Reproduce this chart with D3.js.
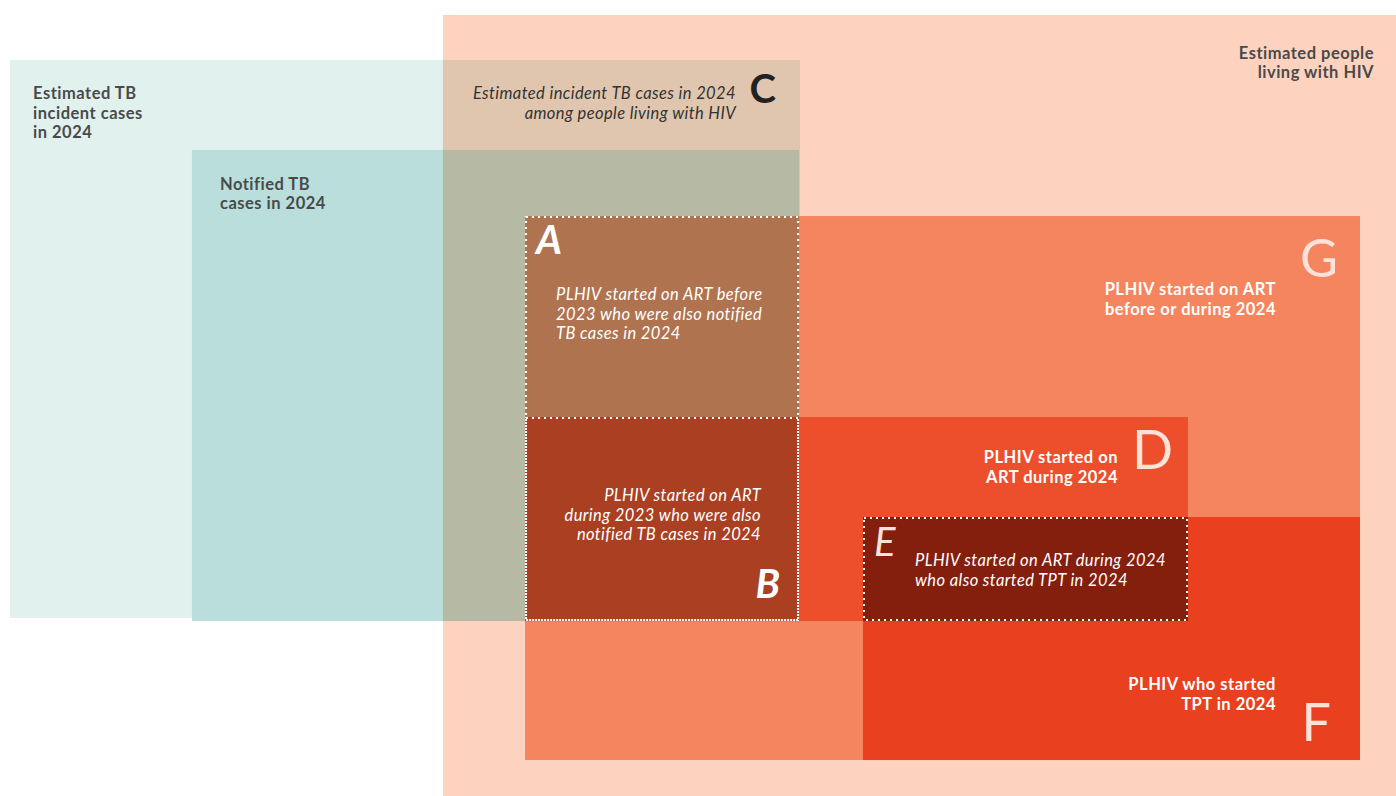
<!DOCTYPE html>
<html>
<head>
<meta charset="utf-8">
<script src="https://cdn.jsdelivr.net/npm/d3@7"></script>
<style>
  html, body { margin: 0; padding: 0; background: #ffffff; }
  svg { display: block; }
</style>
</head>
<body>
<div id="chart"></div>
<script>
// sets of the diagram, extents in percent of the picture
const SET_KEYS = ['tbEst', 'notified', 'plhiv', 'art', 'artNew', 'tpt'];
const SET_X0 = [0.72, 13.75, 31.73, 37.61, 37.61, 61.82];
const SET_X1 = [57.31, 57.24, 100, 97.42, 85.10, 97.42];
const SET_Y0 = [7.54, 18.84, 1.88, 27.14, 52.39, 64.95];
const SET_Y1 = [77.64, 78.02, 100, 95.48, 78.02, 95.48];

// overlaps drawn on top of the sets, computed as intersections
const OVERLAP_KEYS = ['tbEst_plhiv', 'notified_plhiv', 'A', 'B', 'E'];
const OVERLAP_SETS = [['tbEst', 'plhiv'], ['notified', 'plhiv'], ['notified', 'art'],
                      ['notified', 'artNew'], ['artNew', 'tpt']];
const DOTTED = ['A', 'B', 'E'];

const FILLS = {
  tbEst: '#e0f1ee', notified: '#b9dedb', plhiv: '#fdd3bf', art: '#f5855f',
  artNew: '#ed4e2b', tpt: '#e9411f',
  tbEst_plhiv: '#e0c6ae', notified_plhiv: '#b6b9a3', A: '#b07350', B: '#aa3f22', E: '#841e0d'
};

// text labels
const LABEL_TEXT = [
  ['Estimated TB', 'incident cases', 'in 2024'],
  ['Notified TB', 'cases in 2024'],
  ['Estimated incident TB cases in 2024', 'among people living with HIV'],
  ['Estimated people', 'living with HIV'],
  ['PLHIV started on ART', 'before or during 2024'],
  ['PLHIV started on ART before', '2023 who were also notified', 'TB cases in 2024'],
  ['PLHIV started on ART', 'during 2023 who were also', 'notified TB cases in 2024'],
  ['PLHIV started on', 'ART during 2024'],
  ['PLHIV started on ART during 2024', 'who also started TPT in 2024'],
  ['PLHIV who started', 'TPT in 2024']
];
const LETTERS = ['A', 'B', 'C', 'D', 'E', 'F', 'G'];

const W = 1396, H = 796;
var x = d3.scaleLinear().domain([0, 100]).range([0, W]);
var y = d3.scaleLinear().domain([0, 100]).range([0, H]);

var sets = SET_KEYS.map(function(k, i) {
  return {key: k, x0: SET_X0[i], x1: SET_X1[i], y0: SET_Y0[i], y1: SET_Y1[i]};
});
var byKey = {};
sets.forEach(function(s) { byKey[s.key] = s; });

var overlaps = OVERLAP_KEYS.map(function(k, i) {
  var a = byKey[OVERLAP_SETS[i][0]], b = byKey[OVERLAP_SETS[i][1]];
  return {key: k, x0: Math.max(a.x0, b.x0), x1: Math.min(a.x1, b.x1),
          y0: Math.max(a.y0, b.y0), y1: Math.min(a.y1, b.y1)};
});
var ov = {};
overlaps.forEach(function(o) { ov[o.key] = o; });

var svg = d3.select('#chart').append('svg')
  .attr('width', W).attr('height', H);

// draw order: tb sets, plhiv, then overlaps of tb with plhiv, then the art/tpt sets
var order = [byKey.tbEst, byKey.notified, byKey.plhiv, ov.tbEst_plhiv, ov.notified_plhiv,
             byKey.art, ov.A, byKey.artNew, byKey.tpt, ov.B, ov.E];

svg.append('g').selectAll('rect')
  .data(order)
  .enter().append('rect')
    .attr('x', function(d) { return x(d.x0); })
    .attr('y', function(d) { return y(d.y0); })
    .attr('width', function(d) { return x(d.x1) - x(d.x0); })
    .attr('height', function(d) { return y(d.y1) - y(d.y0); })
    .attr('fill', function(d) { return FILLS[d.key]; });

// dotted white borders
svg.append('g').selectAll('rect')
  .data(DOTTED.map(function(k) { return ov[k]; }))
  .enter().append('rect')
    .attr('x', function(d) { return x(d.x0) + 1; })
    .attr('y', function(d) { return y(d.y0) + 1; })
    .attr('width', function(d) { return x(d.x1) - x(d.x0) - 2; })
    .attr('height', function(d) { return y(d.y1) - y(d.y0) - 2; })
    .attr('fill', 'none')
    .attr('stroke', '#ffffff')
    .attr('stroke-width', 2)
    .attr('stroke-dasharray', '2 4');

// label layout: anchor corner of a region + offset
function R(d) { return {l: x(d.x0), r: x(d.x1), t: y(d.y0), b: y(d.y1)}; }
var dark = '#4a4a4a', light = '#ffffff', letterCol = '#fde2da';
var labels = [
  {i: 0, px: R(byKey.tbEst).l + 23, py: R(byKey.tbEst).t + 39, anchor: 'start', col: dark, italic: false},
  {i: 1, px: R(byKey.notified).l + 28, py: R(byKey.notified).t + 40, anchor: 'start', col: dark, italic: false},
  {i: 2, px: R(ov.tbEst_plhiv).r - 64, py: R(ov.tbEst_plhiv).t + 39, anchor: 'end', col: '#333333', italic: true},
  {i: 3, px: R(byKey.plhiv).r - 22, py: R(byKey.plhiv).t + 44, anchor: 'end', col: dark, italic: false},
  {i: 4, px: R(byKey.art).r - 84, py: R(byKey.art).t + 79, anchor: 'end', col: light, italic: false},
  {i: 5, px: R(ov.A).l + 31, py: R(ov.A).t + 84, anchor: 'start', col: light, italic: true},
  {i: 6, px: R(ov.B).r - 38, py: R(ov.B).t + 84, anchor: 'end', col: light, italic: true},
  {i: 7, px: R(byKey.artNew).r - 70, py: R(byKey.artNew).t + 46, anchor: 'end', col: light, italic: false},
  {i: 8, px: R(ov.E).l + 52, py: R(ov.E).t + 49, anchor: 'start', col: light, italic: true},
  {i: 9, px: R(byKey.tpt).r - 84, py: R(byKey.tpt).t + 173, anchor: 'end', col: light, italic: false}
];

svg.append('g').selectAll('text')
  .data(labels)
  .enter().append('text')
    .attr('x', function(d) { return d.px; })
    .attr('y', function(d) { return d.py; })
    .attr('text-anchor', function(d) { return d.anchor; })
    .attr('fill', function(d) { return d.col; })
    .attr('font-family', 'Lato, "Open Sans", sans-serif')
    .attr('font-size', 16.5)
    .attr('letter-spacing', function(d) { return d.italic ? 0.4 : 0.5; })
    .attr('font-weight', function(d) { return d.italic ? 400 : 700; })
    .attr('font-style', function(d) { return d.italic ? 'italic' : 'normal'; })
    .each(function(d) {
      var t = d3.select(this);
      LABEL_TEXT[d.i].forEach(function(line, j) {
        t.append('tspan').attr('x', d.px).attr('dy', j === 0 ? 0 : 19.5).text(line);
      });
    });

// big region letters
var letterPos = [
  {ch: 'A', px: R(ov.A).l + 11, py: R(ov.A).t + 38, anchor: 'start', col: '#ffffff', italic: true, size: 40, weight: 700},
  {ch: 'B', px: R(ov.B).r - 19, py: R(ov.B).t + 181, anchor: 'end', col: '#ffffff', italic: true, size: 40, weight: 700},
  {ch: 'C', px: R(ov.tbEst_plhiv).r - 24, py: R(ov.tbEst_plhiv).t + 43, anchor: 'end', col: '#222222', italic: false, size: 40, weight: 700},
  {ch: 'D', px: R(byKey.artNew).r - 15, py: R(byKey.artNew).t + 52, anchor: 'end', col: letterCol, italic: false, size: 54, weight: 400},
  {ch: 'E', px: R(ov.E).l + 11, py: R(ov.E).t + 39, anchor: 'start', col: letterCol, italic: true, size: 40, weight: 400},
  {ch: 'F', px: R(byKey.tpt).r - 29, py: R(byKey.tpt).t + 224, anchor: 'end', col: letterCol, italic: false, size: 52, weight: 400},
  {ch: 'G', px: R(byKey.art).r - 22, py: R(byKey.art).t + 61, anchor: 'end', col: letterCol, italic: false, size: 52, weight: 400}
];

svg.append('g').selectAll('text')
  .data(letterPos.filter(function(d) { return LETTERS.indexOf(d.ch) >= 0; }))
  .enter().append('text')
    .attr('x', function(d) { return d.px; })
    .attr('y', function(d) { return d.py; })
    .attr('text-anchor', function(d) { return d.anchor; })
    .attr('fill', function(d) { return d.col; })
    .attr('font-family', 'Lato, "Open Sans", sans-serif')
    .attr('font-size', function(d) { return d.size; })
    .attr('font-weight', function(d) { return d.weight; })
    .attr('font-style', function(d) { return d.italic ? 'italic' : 'normal'; })
    .text(function(d) { return d.ch; });
</script>
</body>
</html>
